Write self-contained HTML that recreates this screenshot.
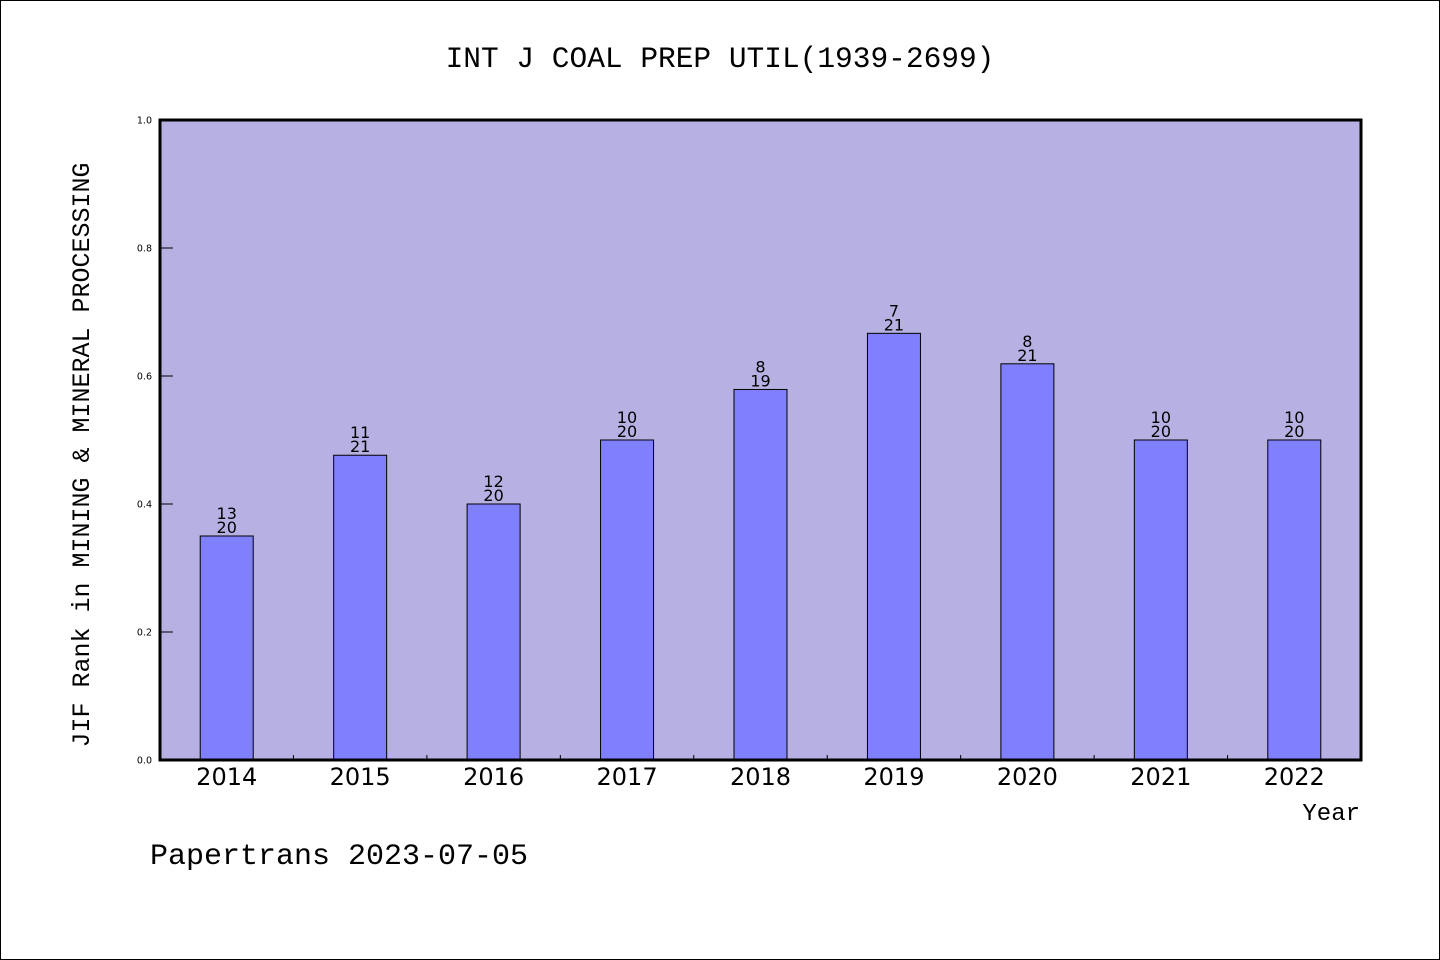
<!DOCTYPE html>
<html><head><meta charset="utf-8"><style>
body{margin:0;background:#fff}
svg{display:block}
.mono{font-family:"Liberation Mono","WenQuanYi Zen Hei",monospace}
.sans{font-family:"DejaVu Sans","Liberation Sans",sans-serif}
</style></head><body>
<svg id="chart" width="1440" height="960">
<rect x="0.5" y="0.5" width="1439" height="959" fill="#fff" stroke="#000"/>
<text x="720" y="67" text-anchor="middle" font-size="29.5" class="mono">INT J COAL PREP UTIL(1939-2699)</text>
<rect x="160" y="120" width="1201" height="640" fill="#b6b0e3"/>
<g id="bars"></g>
<g id="ticks"></g>
<rect x="160" y="120" width="1201" height="640" fill="none" stroke="#000" stroke-width="3"/>
<text transform="translate(89,455) rotate(-90)" text-anchor="middle" font-size="25" class="mono">JIF Rank in MINING &amp; MINERAL PROCESSING</text>
<text x="1360" y="820" text-anchor="end" font-size="24" class="mono">Year</text>
<text x="150" y="864" font-size="30" class="mono">Papertrans 2023-07-05</text>
</svg>
<script>
const categories=["2014","2015","2016","2017","2018","2019","2020","2021","2022"];
const ranks=[13,11,12,10,8,7,8,10,10];
const totals=[20,21,20,20,19,21,21,20,20];
const yTicks=[0,0.2,0.4,0.6,0.8,1.0];
const NS="http://www.w3.org/2000/svg";
const x0=160,x1=1361,y0=760,y1=120;
const band=(x1-x0)/categories.length;
const xc=i=>x0+band*(i+0.5);
const ys=v=>y0-(y0-y1)*v;
function mk(t,a,p){const e=document.createElementNS(NS,t);for(const k in a)e.setAttribute(k,a[k]);p.appendChild(e);return e;}
const bars=document.getElementById('bars'),ticks=document.getElementById('ticks');
categories.forEach((c,i)=>{
  const v=1-ranks[i]/totals[i];
  const r=mk('rect',{x:xc(i)-26.5,y:ys(v),width:53,height:y0-ys(v),fill:'#8080ff',stroke:'#000','stroke-width':1},bars);
  
  
  const t1=mk('text',{x:xc(i),y:ys(v)-17,'text-anchor':'middle','font-size':16,class:'sans'},bars);t1.textContent=ranks[i];
  
  
  const t2=mk('text',{x:xc(i),y:ys(v)-3,'text-anchor':'middle','font-size':16,class:'sans'},bars);t2.textContent=totals[i];
  
  
  const xl=mk('text',{x:xc(i),y:785,'text-anchor':'middle','font-size':24,class:'sans'},ticks);xl.textContent=c;
  
  
  if(i>0){const l=mk('line',{x1:x0+band*i,x2:x0+band*i,y1:y0,y2:y0-5,stroke:'#000'},ticks);
  
  }
});
yTicks.forEach(v=>{
  const l=mk('line',{x1:x0,x2:x0+13,y1:ys(v),y2:ys(v),stroke:'#000'},ticks);
  
  
  const t=mk('text',{x:152,y:ys(v)+3.5,'text-anchor':'end','font-size':9.5,class:'sans'},ticks);t.textContent=v.toFixed(1);
  
  
});
</script>
</body></html>
